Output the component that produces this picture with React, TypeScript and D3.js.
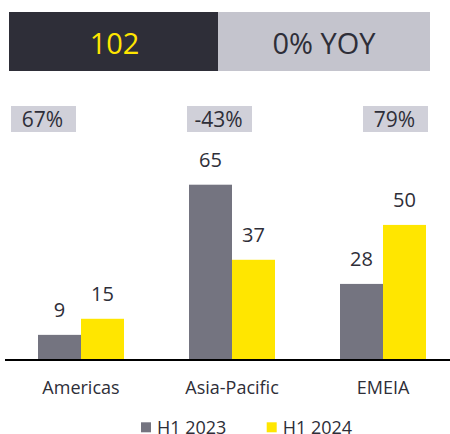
import React from "react";
import * as d3 from "d3";

const categories = ["Americas", "Asia-Pacific", "EMEIA"];
const seriesNames = ["H1 2023", "H1 2024"];
const h12023 = [9, 65, 28];
const h12024 = [15, 37, 50];
const changeLabels = ["67%", "-43%", "79%"];
const totalValue = "102";
const yoyLabel = "0% YOY";

const W = 450;
const H = 434;
const FONT = "'Open Sans', 'Noto Sans', sans-serif";
const DARK = "#2e2e38";
const GRAY = "#747480";
const YELLOW = "#ffe600";

export default function App() {
  const baseY = 359;
  const y = d3.scaleLinear().domain([0, 65]).range([baseY, 184.7]);
  const pInner = 65 / 151;
  const x0 = d3
    .scaleBand<string>()
    .domain(categories)
    .range([5.5, 458.5])
    .paddingInner(pInner)
    .paddingOuter(pInner / 2);
  const x1 = d3
    .scaleBand<string>()
    .domain(seriesNames)
    .range([0, x0.bandwidth()]);
  const colors = d3.scaleOrdinal<string, string>().domain(seriesNames).range([GRAY, YELLOW]);
  const values = [h12023, h12024];

  const boxX = d3.scaleLinear().domain([0, 2]).range([43.5, 395.5]);

  return (
    <svg
      width={W}
      height={H}
      style={{ position: "absolute", left: 0, top: 0, fontFamily: FONT }}
    >
      <rect x={0} y={0} width={W} height={H} fill="#fff" />
      {/* banner */}
      <rect x={9} y={12} width={209} height={59} fill={DARK} />
      <rect x={218} y={12} width={212} height={59} fill="#c4c4cd" />
      <text x={114.5} y={54} textAnchor="middle" fontSize={29} fill={YELLOW}>
        {totalValue}
      </text>
      <text x={324} y={54} textAnchor="middle" fontSize={29} fill={DARK}>
        {yoyLabel}
      </text>

      {/* change boxes */}
      {changeLabels.map((lab, i) => (
        <g key={lab}>
          <rect x={boxX(i) - 32.5} y={106} width={65} height={26} fill="#d0d0d9" />
          <text x={boxX(i) - 1} y={127.3} textAnchor="middle" fontSize={21} fill={DARK}>
            {lab}
          </text>
        </g>
      ))}

      {/* bars */}
      {categories.map((c, ci) => (
        <g key={c} transform={`translate(${x0(c)},0)`}>
          {seriesNames.map((s, si) => {
            const v = values[si][ci];
            const bx = x1(s)!;
            return (
              <g key={s}>
                <rect
                  x={bx}
                  y={y(v)}
                  width={x1.bandwidth()}
                  height={baseY - y(v)}
                  fill={colors(s)}
                />
                <text
                  x={bx + x1.bandwidth() / 2}
                  y={y(v) - 17.5}
                  textAnchor="middle"
                  fontSize={20}
                  fill={DARK}
                >
                  {v}
                </text>
              </g>
            );
          })}
          <text
            x={x0.bandwidth() / 2}
            y={393.5}
            textAnchor="middle"
            fontSize={18}
            fill={DARK}
          >
            {c}
          </text>
        </g>
      ))}

      {/* axis line */}
      <line x1={5} x2={450} y1={baseY + 1} y2={baseY + 1} stroke="#000" strokeWidth={2} />

      {/* legend */}
      {seriesNames.map((s, i) => {
        const lx = 141 + i * 125.7;
        return (
          <g key={s}>
            <rect x={lx} y={422.3} width={10} height={10} fill={colors(s)} />
            <text x={lx + 16} y={434} fontSize={18} fill={DARK}>
              {s}
            </text>
          </g>
        );
      })}
    </svg>
  );
}
